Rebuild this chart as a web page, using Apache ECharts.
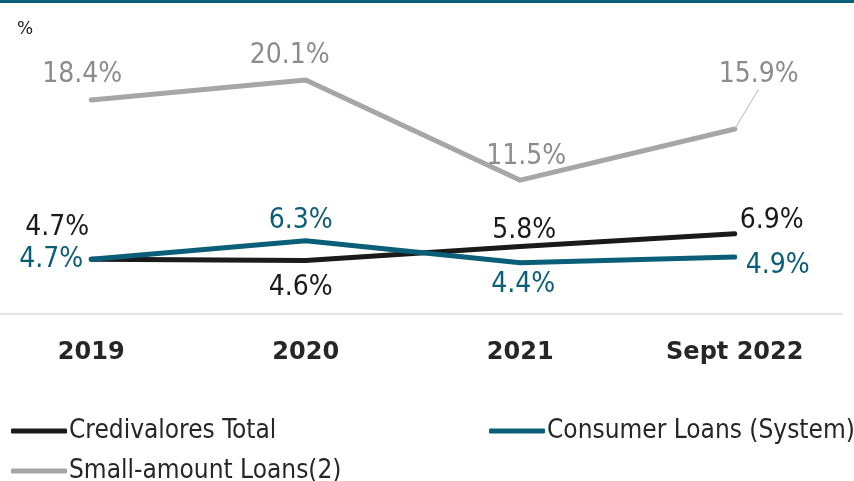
<!DOCTYPE html>
<html>
<head>
<meta charset="utf-8">
<script src="https://cdn.jsdelivr.net/npm/echarts@6/dist/echarts.min.js"></script>
<style>
  html, body { margin: 0; padding: 0; background: #ffffff; }
  #chart { width: 854px; height: 481px; }
</style>
</head>
<body>
<div id="chart"></div>
<script>
// Yearly ratios, in percent
const categories = ['2019', '2020', '2021', 'Sept 2022'];
const credivaloresTotal = [4.7, 4.6, 5.8, 6.9];
const consumerLoansSystem = [4.7, 6.3, 4.4, 4.9];
const smallAmountLoans = [18.4, 20.1, 11.5, 15.9];

const nameCredivalores = 'Credivalores Total';
const nameConsumer = 'Consumer Loans (System)';
const nameSmall = 'Small-amount Loans(2)';

const BLACK = '#1a1a1a';
const TEAL = '#0b5e78';
const GRAY = '#a6a6a6';
const FONT = 'DejaVu Sans';
const FONT_NARROW = '"DejaVu Sans Condensed", "DejaVu Sans"';

// where each value label sits relative to its point (px)
const shiftCredivalores = [[-34, -32], [-5, 27], [4, -16], [37, -13]];
const shiftConsumer = [[-40, 0], [-5, -20], [3, 22], [43, 9]];
const shiftSmall = [[-9, -25], [-16, -24], [6, -23], [24, -54]];

function lineSeries(name, values, color, labelColor, shifts, z) {
  return {
    name: name,
    type: 'line',
    data: values.map((v, i) => ({ value: v, label: { offset: shifts[i] } })),
    z: z,
    symbol: 'circle',
    symbolSize: 2,
    itemStyle: { color: color },
    lineStyle: { color: color, width: 5, cap: 'round', join: 'round' },
    label: {
      show: true,
      position: 'inside',
      color: labelColor,
      fontFamily: FONT_NARROW,
      fontSize: 28,
      formatter: p => p.value.toFixed(1) + '%'
    },
    emphasis: { disabled: true },
    animation: false
  };
}

// the small-amount series moves its labels through labelLayout so the last one can carry a leader line
const smallSeries = lineSeries(nameSmall, smallAmountLoans, GRAY, '#8c8c8c', [[0, 0], [0, 0], [0, 0], [0, 0]], 1);
smallSeries.data = smallAmountLoans.map((v, i) => i === 3
  ? { value: v, labelLine: { show: true, lineStyle: { color: '#c8c8c8', width: 1.2 } } }
  : { value: v });
smallSeries.labelLayout = p => ({ dx: shiftSmall[p.dataIndex][0], dy: shiftSmall[p.dataIndex][1] });

const legendBase = {
  icon: 'roundRect',
  itemWidth: 56,
  itemHeight: 5,
  itemGap: 0,
  selectedMode: false,
  textStyle: { fontFamily: FONT_NARROW, fontSize: 26, color: '#262626', padding: [0, 0, 0, -3] }
};

const option = {
  backgroundColor: '#ffffff',
  animation: false,
  title: {
    text: '%',
    left: 17,
    top: 21,
    padding: 0,
    textStyle: { fontFamily: FONT, fontSize: 17, fontWeight: 'normal', color: '#1a1a1a' }
  },
  graphic: [{
    type: 'rect',
    left: 0,
    top: 0,
    shape: { width: 854, height: 3 },
    style: { fill: TEAL }
  }],
  grid: { left: -16, right: 12, top: 58, bottom: 167, outerBoundsMode: 'none', containLabel: false },
  xAxis: {
    type: 'category',
    data: categories,
    boundaryGap: true,
    axisLine: { lineStyle: { color: '#e3e3e3', width: 2 } },
    axisTick: { show: false },
    axisLabel: {
      margin: 27,
      fontFamily: FONT,
      fontWeight: 'bold',
      fontSize: 24,
      color: '#262626'
    }
  },
  yAxis: {
    type: 'value',
    min: 0,
    max: 22,
    show: false,
    splitLine: { show: false }
  },
  legend: [
    Object.assign({}, legendBase, { data: [nameCredivalores], left: 6, top: 413 }),
    Object.assign({}, legendBase, { data: [nameConsumer], left: 484, top: 413 }),
    Object.assign({}, legendBase, { data: [nameSmall], left: 6, top: 453 })
  ],
  series: [
    smallSeries,
    lineSeries(nameCredivalores, credivaloresTotal, BLACK, BLACK, shiftCredivalores, 2),
    lineSeries(nameConsumer, consumerLoansSystem, TEAL, TEAL, shiftConsumer, 3)
  ]
};

const chart = echarts.init(document.getElementById('chart'), null, { renderer: 'canvas' });
chart.setOption(option);
</script>
</body>
</html>
